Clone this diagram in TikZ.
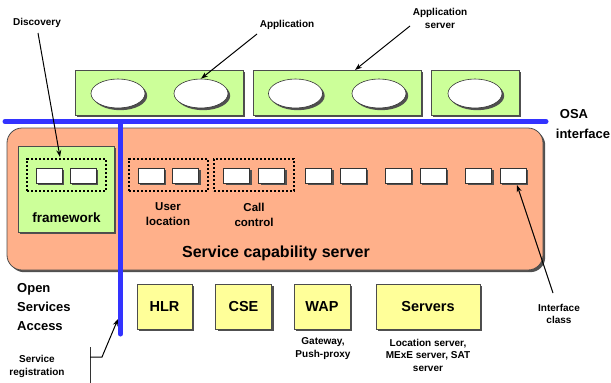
\documentclass[tikz,border=0pt]{standalone}
\usepackage{fontspec}
\setmainfont{Liberation Sans}
\usetikzlibrary{shadows,arrows.meta,shapes.geometric}

\definecolor{appgreen}{RGB}{204,255,153}
\definecolor{scsorange}{RGB}{255,176,138}
\definecolor{resyellow}{RGB}{255,255,153}
\definecolor{osablue}{RGB}{51,51,255}
\definecolor{shadowgray}{RGB}{80,80,80}

\tikzset{
  shade box/.style={drop shadow={shadow xshift=2.2pt, shadow yshift=-2.2pt, fill=shadowgray, opacity=1}},
  greenbox/.style={draw=black!70, line width=0.7pt, fill=appgreen, shade box, inner sep=0pt},
  appoval/.style={ellipse, draw=black!80, line width=0.6pt, fill=white, shade box,
    minimum width=54pt, minimum height=29pt, inner sep=0pt},
  ifrect/.style={draw=black!80, line width=0.6pt, fill=white, shade box,
    minimum width=26pt, minimum height=15pt, inner sep=0pt},
  groupbox/.style={draw=black, line width=1.3pt, dash pattern=on 2.4pt off 1.6pt,
    minimum height=32pt, inner sep=0pt},
  resbox/.style={draw=black!70, line width=0.7pt, fill=resyellow, shade box,
    minimum height=45pt, inner sep=0pt, font=\fontsize{14.5}{15}\selectfont\bfseries},
  lbl/.style={font=\fontsize{10}{12.5}\selectfont\bfseries, align=center, inner sep=0pt},
  midlbl/.style={font=\fontsize{11.5}{15}\selectfont\bfseries, align=center, inner sep=0pt},
  biglbl/.style={font=\fontsize{13}{19}\selectfont\bfseries, inner sep=0pt},
  osaline/.style={draw=osablue, line width=5pt, line cap=round},
  pointer/.style={draw=black, line width=1pt, -{Stealth[length=7pt,width=5pt]}},
}

\begin{document}
\begin{tikzpicture}[x=1pt, y=-1pt]
\useasboundingbox (0,0) rectangle (611,383);

% application servers with their applications
\node[greenbox, minimum width=168pt, minimum height=45pt] (as1) at (159,92.5) {};
\node[greenbox, minimum width=168pt, minimum height=45pt] (as2) at (337,92.5) {};
\node[greenbox, minimum width=88pt, minimum height=45pt] (as3) at (475,92.5) {};
\node[appoval] (app1) at (118,93.5) {};
\node[appoval] (app2) at (201,93.5) {};
\node[appoval] (app3) at (295.5,93.5) {};
\node[appoval] (app4) at (379,93.5) {};
\node[appoval] (app5) at (475,93.5) {};

% service capability server
\node[draw=black!70, line width=0.8pt, fill=scsorange, rounded corners=15pt, shade box,
  minimum width=536pt, minimum height=142pt, inner sep=0pt] (scs) at (275,199) {};
\node[font=\fontsize{16}{18}\selectfont\bfseries, inner sep=0pt] (scslbl) at (276,253) {Service capability server};

% framework
\node[greenbox, minimum width=96pt, minimum height=86pt] (fw) at (66,189) {};
\node[font=\fontsize{13.5}{16}\selectfont\bfseries, inner sep=0pt] (fwlbl) at (66.5,217.5) {framework};

% grouped interface classes
\node[groupbox, minimum width=79pt] (gfw) at (66.5,175) {};
\node[groupbox, minimum width=79pt] (gul) at (168.5,175) {};
\node[groupbox, minimum width=80pt] (gcc) at (254,175) {};

\foreach \n/\x in {i1/49, i2/83, i3/151, i4/185.5, i5/236.5, i6/271.5,
                   i7/318.5, i8/353, i9/398, i10/433, i11/478.5, i12/513}
  \node[ifrect] (\n) at (\x,175.5) {};

\node[midlbl] (ul) at (168,214.5) {User\\location};
\node[midlbl] (cc) at (254,214.5) {Call\\control};

% OSA interface lines
\coordinate (hl) at (5,121.5);
\coordinate (hr) at (546,121.5);
\coordinate (vt) at (120.5,122);
\coordinate (vb) at (120.5,334);
\draw[osaline] (hl) -- (hr);
\draw[osaline] (vt) -- (vb);

\node[biglbl] (osa) at (574,114) {OSA};
\node[biglbl] (osaif) at (583,133.5) {interface};

% network resources
\node[resbox, minimum width=55pt] (hlr) at (164.5,306.5) {HLR};
\node[resbox, minimum width=56pt] (cse) at (243.5,306.5) {CSE};
\node[resbox, minimum width=56pt] (wap) at (322,306.5) {WAP};
\node[resbox, minimum width=104pt] (srv) at (428,306.5) {Servers};

\node[lbl] (waplbl) at (323,348.5) {Gateway,\\Push-proxy};
\node[lbl] (srvlbl) at (428,355) {Location server,\\MExE server, SAT\\server};

\node[font=\fontsize{13}{19}\selectfont\bfseries, align=left, inner sep=0pt, anchor=west] (open) at (17,307) {Open\\Services\\Access};

% callout labels
\node[lbl] (disc) at (37,23) {Discovery};
\node[lbl] (appl) at (287,25) {Application};
\node[lbl] (asl) at (440,18.5) {Application\\server};
\node[lbl] (icl) at (559,314) {Interface\\class};
\node[lbl] (sreg) at (37,366.5) {Service\\registration};

% callout pointers
\coordinate (discs) at (38,33);
\coordinate (discp) at (60,157);
\draw[pointer] (discs) -- (discp);
\coordinate (appls) at (257,34);
\draw[pointer] (appls) -- (app2.north);
\coordinate (ass) at (410,26);
\coordinate (asp) at (355,70);
\draw[pointer] (ass) -- (asp);
\coordinate (ics) at (553,293);
\coordinate (icp) at (517,185);
\draw[pointer] (ics) -- (icp);

\coordinate (srt) at (90,347);
\coordinate (srb) at (90,383);
\coordinate (srk) at (90,357);
\coordinate (srm) at (102,357);
\coordinate (srp) at (118,319);
\draw[black!80, line width=0.7pt] (srt) -- (srb);
\draw[pointer] (srk) -- (srm) -- (srp);
\end{tikzpicture}
\end{document}
